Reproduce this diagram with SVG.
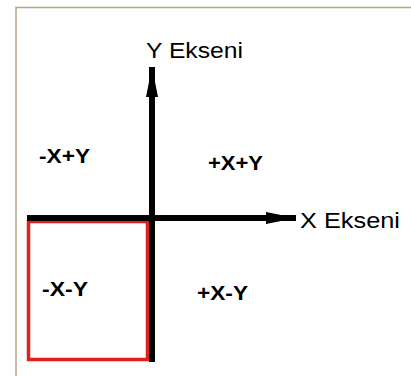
<svg xmlns="http://www.w3.org/2000/svg" width="411" height="376" viewBox="0 0 411 376">
<style>
.t{font-family:"Liberation Sans",Arial,sans-serif;fill:#000;}
.q{font-weight:bold;}
.ax{stroke:#000;stroke-width:6;fill:none;}
</style>
<defs>
<marker id="ah" viewBox="0 0 10 10" refX="10" refY="5" markerWidth="5" markerHeight="2" orient="auto" markerUnits="strokeWidth" preserveAspectRatio="none">
<path d="M0,0 L10,5 L0,10 z" fill="#000"/>
</marker>
</defs>
<rect width="411" height="376" fill="#fff"/>
<path d="M16,376 L16,7.5 L411,7.5" fill="none" stroke="#b5a587" stroke-width="1.5"/>
<g id="quadrant-box">
<rect x="28.5" y="221.5" width="119" height="138" fill="none" stroke="#e0201c" stroke-width="3.5"/>
</g>
<g id="connectors">
<path class="ax" d="M152,362 L152,67" marker-end="url(#ah)"/>
<path class="ax" d="M27,218 L296,218" marker-end="url(#ah)"/>
</g>
<g id="y-axis-label"><text class="t" x="146" y="58" font-size="22" textLength="97" lengthAdjust="spacingAndGlyphs">Y Ekseni</text></g>
<g id="x-axis-label"><text class="t" x="300" y="228" font-size="22" textLength="100" lengthAdjust="spacingAndGlyphs">X Ekseni</text></g>
<g id="q2"><text class="t q" x="39" y="163" font-size="20" textLength="51" lengthAdjust="spacingAndGlyphs">-X+Y</text></g>
<g id="q1"><text class="t q" x="208" y="170" font-size="20" textLength="55" lengthAdjust="spacingAndGlyphs">+X+Y</text></g>
<g id="q3"><text class="t q" x="42" y="296" font-size="20" textLength="46" lengthAdjust="spacingAndGlyphs">-X-Y</text></g>
<g id="q4"><text class="t q" x="197" y="300" font-size="20" textLength="51" lengthAdjust="spacingAndGlyphs">+X-Y</text></g>
</svg>
